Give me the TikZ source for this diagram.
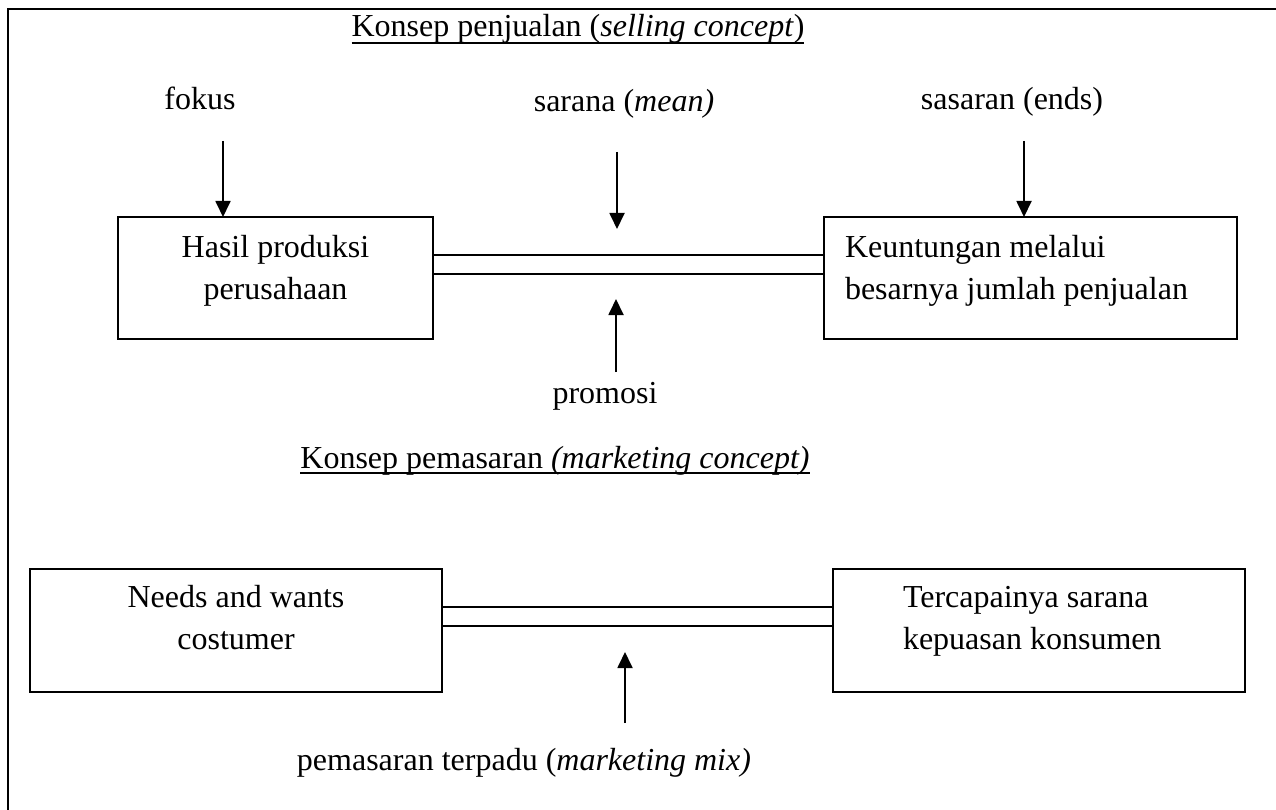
\documentclass[tikz,border=0pt]{standalone}
\usepackage{fontspec}
\setmainfont{Liberation Serif}
\usetikzlibrary{arrows.meta}
\begin{document}
\begin{tikzpicture}[x=1pt,y=-1pt,
  every node/.style={inner sep=0pt, outer sep=0pt, font=\fontsize{32}{42}\selectfont},
  frame/.style={line width=1.8pt, line cap=rect},
  box/.style={draw, line width=1.8pt, rectangle, inner sep=0pt},
  link/.style={line width=1.8pt},
  arr/.style={line width=1.8pt, -{Triangle[length=16pt,width=15pt]}},
  uline/.style={line width=1.5pt},
  lbl/.style={anchor=base}]
\useasboundingbox (0,0) rectangle (1276,810);
\fill[white] (0,0) rectangle (1276,810);
% frame (top and left sides visible)
\draw[frame] (1276,9) -- (8,9) -- (8,810);

% titles
\node[lbl] (t1) at (578,37) {Konsep penjualan (\textit{selling concept})};
\draw[uline] ([yshift=-6pt]t1.base west) -- ([yshift=-6pt]t1.base east);
\node[lbl] (t2) at (555,468) {Konsep pemasaran \textit{(marketing concept)}};
\draw[uline] ([yshift=-5pt]t2.base west) -- ([yshift=-5pt]t2.base east);

% upper labels
\node[lbl] (fokus) at (200,110) {fokus};
\node[lbl] (sarana) at (624,112) {sarana (\textit{mean)}};
\node[lbl] (sasaran) at (1012,110) {sasaran (ends)};
\node[lbl] (promosi) at (605,403) {promosi};
\node[lbl] (mix) at (524,770) {pemasaran terpadu (\textit{marketing mix)}};

% boxes
\node[box, minimum width=315pt, minimum height=122pt] (b1) at (275.5,278) {};
\node[box, minimum width=413pt, minimum height=122pt] (b2) at (1030.5,278) {};
\node[box, minimum width=412pt, minimum height=123pt] (b3) at (236,630.5) {};
\node[box, minimum width=412pt, minimum height=123pt] (b4) at (1039,630.5) {};

% box texts (base anchor = last line)
\node[anchor=base, align=center] (tx1) at (275.5,299) {Hasil produksi\\perusahaan};
\node[anchor=base west, align=left] (tx2) at (845,299) {Keuntungan melalui\\besarnya jumlah penjualan};
\node[anchor=base, align=center] (tx3) at (236,649) {Needs and wants\\costumer};
\node[anchor=base west, align=left] (tx4) at (903,649) {Tercapainya sarana\\kepuasan konsumen};

% double connectors
\coordinate (ya) at (0,255);
\coordinate (yb) at (0,274);
\coordinate (yc) at (0,607);
\coordinate (yd) at (0,626);
\draw[link] (b1.east |- ya) -- (b2.west |- ya);
\draw[link] (b1.east |- yb) -- (b2.west |- yb);
\draw[link] (b3.east |- yc) -- (b4.west |- yc);
\draw[link] (b3.east |- yd) -- (b4.west |- yd);

% arrows
\coordinate (fk) at (223,141);
\draw[arr] (fk) -- (fk |- b1.north);
\coordinate (sr) at (617,152);
\coordinate (srT) at (617,229);
\draw[arr] (sr) -- (srT);
\coordinate (ss) at (1024,141);
\draw[arr] (ss) -- (ss |- b2.north);
\coordinate (pr) at (616,372);
\coordinate (prT) at (616,299);
\draw[arr] (pr) -- (prT);
\coordinate (mm) at (625,723);
\coordinate (mmT) at (625,652);
\draw[arr] (mm) -- (mmT);
\end{tikzpicture}
\end{document}
